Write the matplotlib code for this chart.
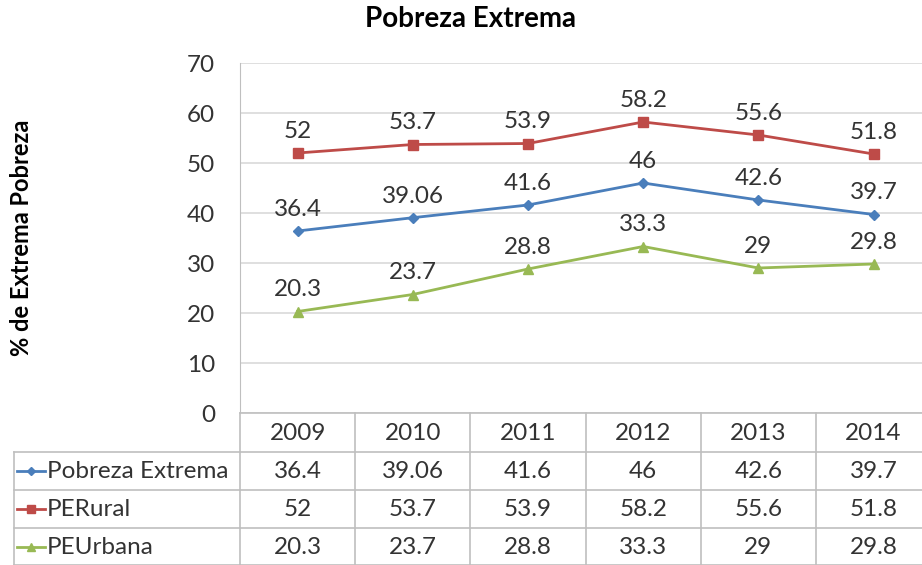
import matplotlib.pyplot as plt
import matplotlib.transforms as mtransforms
from matplotlib.lines import Line2D

plt.rcParams["font.family"] = ["Lato", "DejaVu Sans"]

years = ["2009", "2010", "2011", "2012", "2013", "2014"]
pobreza_extrema = [36.4, 39.06, 41.6, 46, 42.6, 39.7]
pe_rural = [52, 53.7, 53.9, 58.2, 55.6, 51.8]
pe_urbana = [20.3, 23.7, 28.8, 33.3, 29, 29.8]
series_names = ["Pobreza Extrema", "PERural", "PEUrbana"]
series_labels = [["36.4", "39.06", "41.6", "46", "42.6", "39.7"],
                 ["52", "53.7", "53.9", "58.2", "55.6", "51.8"],
                 ["20.3", "23.7", "28.8", "33.3", "29", "29.8"]]

colors = ["#4A7EBB", "#BE4B48", "#98B954"]
markers = ["D", "s", "^"]
msizes = [5, 7, 7]
text_col = "#333333"
grid_col = "#D9D9D9"
border_col = "#BFBFBF"
fs = 17.5

W, H = 922, 565


def fx(px):
    return px / W


def fy(py):
    return 1 - py / H


fig = plt.figure(figsize=(W / 100, H / 100), dpi=100)
ax = fig.add_axes([fx(240), fy(413), 6 * 115.2 / W, 350 / H])

x = list(range(len(years)))
for vals, labs, c, m, ms in zip([pobreza_extrema, pe_rural, pe_urbana], series_labels, colors, markers, msizes):
    ax.plot(x, vals, color=c, lw=2, marker=m, ms=ms, zorder=3)
    for xi, v, lab in zip(x, vals, labs):
        ax.annotate(lab, (xi, v), xytext=(0, 8), textcoords="offset points",
                    ha="center", va="bottom", fontsize=fs, color=text_col)

ax.set_xlim(-0.5, 5.5)
ax.set_ylim(0, 70)
ax.set_yticks(range(0, 71, 10))
ax.set_xticks([])
ax.tick_params(axis="y", length=0, labelsize=fs, labelcolor=text_col, pad=18)
ax.grid(axis="y", color=grid_col, lw=1.2)
ax.set_axisbelow(True)
for s in ["top", "right", "bottom"]:
    ax.spines[s].set_visible(False)
ax.spines["left"].set_color(border_col)

fig.text(fx(470), fy(19), "Pobreza Extrema", ha="center", va="center",
         fontsize=20, fontweight="bold", color="black")
fig.text(fx(22), fy(238), "% de Extrema Pobreza", rotation=90, ha="center", va="center",
         fontsize=17, fontweight="bold", color="black")

# data table under the chart
blend = mtransforms.blended_transform_factory(ax.transData, fig.transFigure)
row_lines = [413, 452, 490, 528, 565]
row_centres = [433, 471, 509, 547]

fig.add_artist(Line2D([-0.5, 5.5], [fy(413), fy(413)], transform=blend, color=border_col, lw=1.2))
for yl in row_lines[1:]:
    fig.add_artist(Line2D([fx(14), fx(240)], [fy(yl), fy(yl)], color=border_col, lw=1.2))
    fig.add_artist(Line2D([-0.5, 5.5], [fy(yl), fy(yl)], transform=blend, color=border_col, lw=1.2))
fig.add_artist(Line2D([fx(14), fx(14)], [fy(452), fy(565)], color=border_col, lw=1.2))
for b in range(6):
    fig.add_artist(Line2D([b - 0.5, b - 0.5], [fy(413), fy(565)], transform=blend, color=border_col, lw=1.2))

for xi, yr in zip(x, years):
    fig.text(xi, fy(row_centres[0]), yr, transform=blend, ha="center", va="center",
             fontsize=fs, color=text_col)

for r, (name, labs, c, m, ms) in enumerate(zip(series_names, series_labels, colors, markers, msizes)):
    yc = fy(row_centres[r + 1])
    fig.add_artist(Line2D([fx(17), fx(45)], [yc, yc], color=c, lw=2))
    fig.add_artist(Line2D([fx(31)], [yc], color=c, marker=m, ms=ms - 1, lw=0))
    fig.text(fx(47), yc, name, ha="left", va="center", fontsize=fs, color=text_col)
    for xi, lab in zip(x, labs):
        fig.text(xi, yc, lab, transform=blend, ha="center", va="center",
                 fontsize=fs, color=text_col)

fig.savefig("out.png", dpi=100)
